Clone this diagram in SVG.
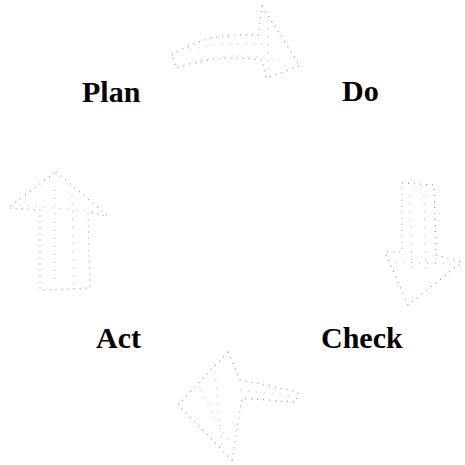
<svg xmlns="http://www.w3.org/2000/svg" width="465" height="465" viewBox="0 0 465 465">
<style>
.lbl{font-family:"Liberation Serif","Times New Roman",serif;font-weight:bold;font-size:30px;fill:#000}
.arr{fill:none;stroke:#9a9a9a;stroke-width:1.2;stroke-dasharray:1 5}
.arr2{fill:none;stroke:#b5b5b5;stroke-width:1;stroke-dasharray:1 7}
</style>
<rect width="465" height="465" fill="#fff"/>
<g id="connectors">
<g id="arrow-plan-do">
<path class="arr" d="M172,55 Q212,30 258,36 L262,6 L300,66 L266,78 L262,60 Q218,54 176,68 Z"/>
<path class="arr2" d="M190,50 Q225,40 265,45 M200,60 Q235,52 280,60 M268,20 L268,70"/>
</g>
<g id="arrow-do-check">
<path class="arr" d="M402,183 L434,185 L436,255 L462,262 L408,305 L385,252 L402,252 Z"/>
<path class="arr2" d="M410,195 L412,270 M424,195 L426,275 M395,262 L450,264"/>
</g>
<g id="arrow-check-act">
<path class="arr" d="M228,352 L240,380 L298,392 L296,402 L242,398 L232,460 L178,405 Z"/>
<path class="arr2" d="M200,390 L228,440 M215,372 L222,445 M240,390 L290,396"/>
</g>
<g id="arrow-act-plan">
<path class="arr" d="M56,172 L108,216 L88,212 L90,288 L40,290 L40,210 L8,208 Z"/>
<path class="arr2" d="M55,190 L55,282 M72,195 L74,284 M20,205 L100,212"/>
</g>
</g>
<g id="node-plan"><text class="lbl" x="82" y="102">Plan</text></g>
<g id="node-do"><text class="lbl" x="342" y="101">Do</text></g>
<g id="node-check"><text class="lbl" x="321" y="348">Check</text></g>
<g id="node-act"><text class="lbl" x="96" y="348">Act</text></g>
</svg>
